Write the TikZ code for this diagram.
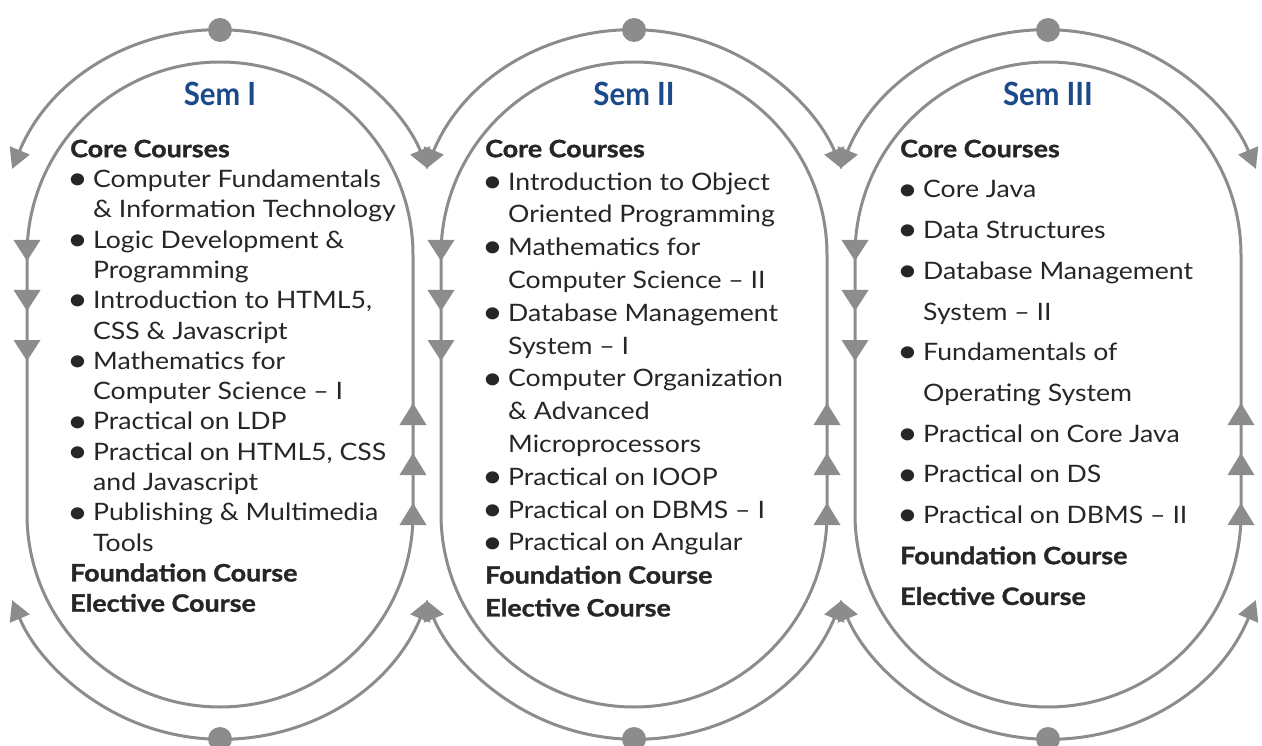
\documentclass[tikz,border=0pt]{standalone}
\usepackage{fontspec}
\setmainfont{Lato}[FakeStretch=1.11,BoldFeatures={FakeStretch=1.12,FakeBold=1.2}]
\newfontfamily\semfont{Lato}[FakeStretch=0.92]
\usetikzlibrary{arrows.meta}
\definecolor{ln}{HTML}{8C8C8C}
\definecolor{txt}{HTML}{262626}
\definecolor{semblue}{HTML}{1B4A8A}
\newcommand\itm[1]{\makebox[23pt][l]{\hspace*{-3pt}\raisebox{-2.2pt}{\scalebox{1.35}{\textbullet}}}#1}
\newcommand\cnt[1]{\hspace*{23pt}#1}
\begin{document}
\begin{tikzpicture}[x=1pt,y=-1pt,
  ring/.style={draw=ln,line width=3pt},
  flow/.style={draw=ln,line width=3pt,{Triangle[length=20pt,width=21pt]}-{Triangle[length=20pt,width=21pt]}},
  dot/.style={fill=ln},
  tri/.style={fill=ln},
  sem/.style={anchor=base,text=semblue,font=\semfont\bfseries\fontsize{32}{36}\selectfont,inner sep=0pt},
  blk/.style={anchor=north west,align=left,text=txt,inner sep=0pt}]
\useasboundingbox (0,0) rectangle (1262,746);
\foreach \cx in {220,634,1048}{
  % stadium
  \draw[ring] (\cx-193,514) -- (\cx-193,255) arc[start angle=180,end angle=360,radius=193]
     -- (\cx+193,514) arc[start angle=0,end angle=180,radius=193] -- cycle;
  % outer arcs
  \draw[flow] ([shift={(202.5:225)}]\cx,255) arc[start angle=202.5,end angle=337.5,radius=225];
  \draw[flow] ([shift={(22.5:225)}]\cx,514) arc[start angle=22.5,end angle=157.5,radius=225];
  \fill[dot] (\cx,30) circle[radius=12];
  \fill[dot] (\cx,739) circle[radius=12];
  % side triangles
  \foreach \yb in {240,290,340}{
    \fill[tri] (\cx-193-13.5,\yb) -- (\cx-193+13.5,\yb) -- (\cx-193,\yb+21) -- cycle;}
  \foreach \yb in {425,475,525}{
    \fill[tri] (\cx+193-13.5,\yb) -- (\cx+193+13.5,\yb) -- (\cx+193,\yb-22) -- cycle;}
}
\node[sem] (s1) at (220,106) {Sem I};
\node[sem] (s2) at (634,106) {Sem II};
\node[sem] (s3) at (1048,106) {Sem III};
\node[blk,font=\fontsize{24}{30.3}\selectfont] (b1) at (70,139.5) {%
\textbf{Core Courses}\\
\itm{Computer Fundamentals}\\
\cnt{\& Information Technology}\\
\itm{Logic Development \&}\\
\cnt{Programming}\\
\itm{Introduction to HTML5,}\\
\cnt{CSS \& Javascript}\\
\itm{Mathematics for}\\
\cnt{Computer Science – I}\\
\itm{Practical on LDP}\\
\itm{Practical on HTML5, CSS}\\
\cnt{and Javascript}\\
\itm{Publishing \& Multimedia}\\
\cnt{Tools}\\
\textbf{Foundation Course}\\
\textbf{Elective Course}};
\node[blk,font=\fontsize{24}{32.8}\selectfont] (b2) at (485,139.5) {%
\textbf{Core Courses}\\
\itm{Introduction to Object}\\
\cnt{Oriented Programming}\\
\itm{Mathematics for}\\
\cnt{Computer Science – II}\\
\itm{Database Management}\\
\cnt{System – I}\\
\itm{Computer Organization}\\
\cnt{\& Advanced}\\
\cnt{Microprocessors}\\
\itm{Practical on IOOP}\\
\itm{Practical on DBMS – I}\\
\itm{Practical on Angular}\\
\textbf{Foundation Course}\\
\textbf{Elective Course}};
\node[blk,font=\fontsize{24}{40.7}\selectfont] (b3) at (900,139.5) {%
\textbf{Core Courses}\\
\itm{Core Java}\\
\itm{Data Structures}\\
\itm{Database Management}\\
\cnt{System – II}\\
\itm{Fundamentals of}\\
\cnt{Operating System}\\
\itm{Practical on Core Java}\\
\itm{Practical on DS}\\
\itm{Practical on DBMS – II}\\
\textbf{Foundation Course}\\
\textbf{Elective Course}};
\end{tikzpicture}
\end{document}
